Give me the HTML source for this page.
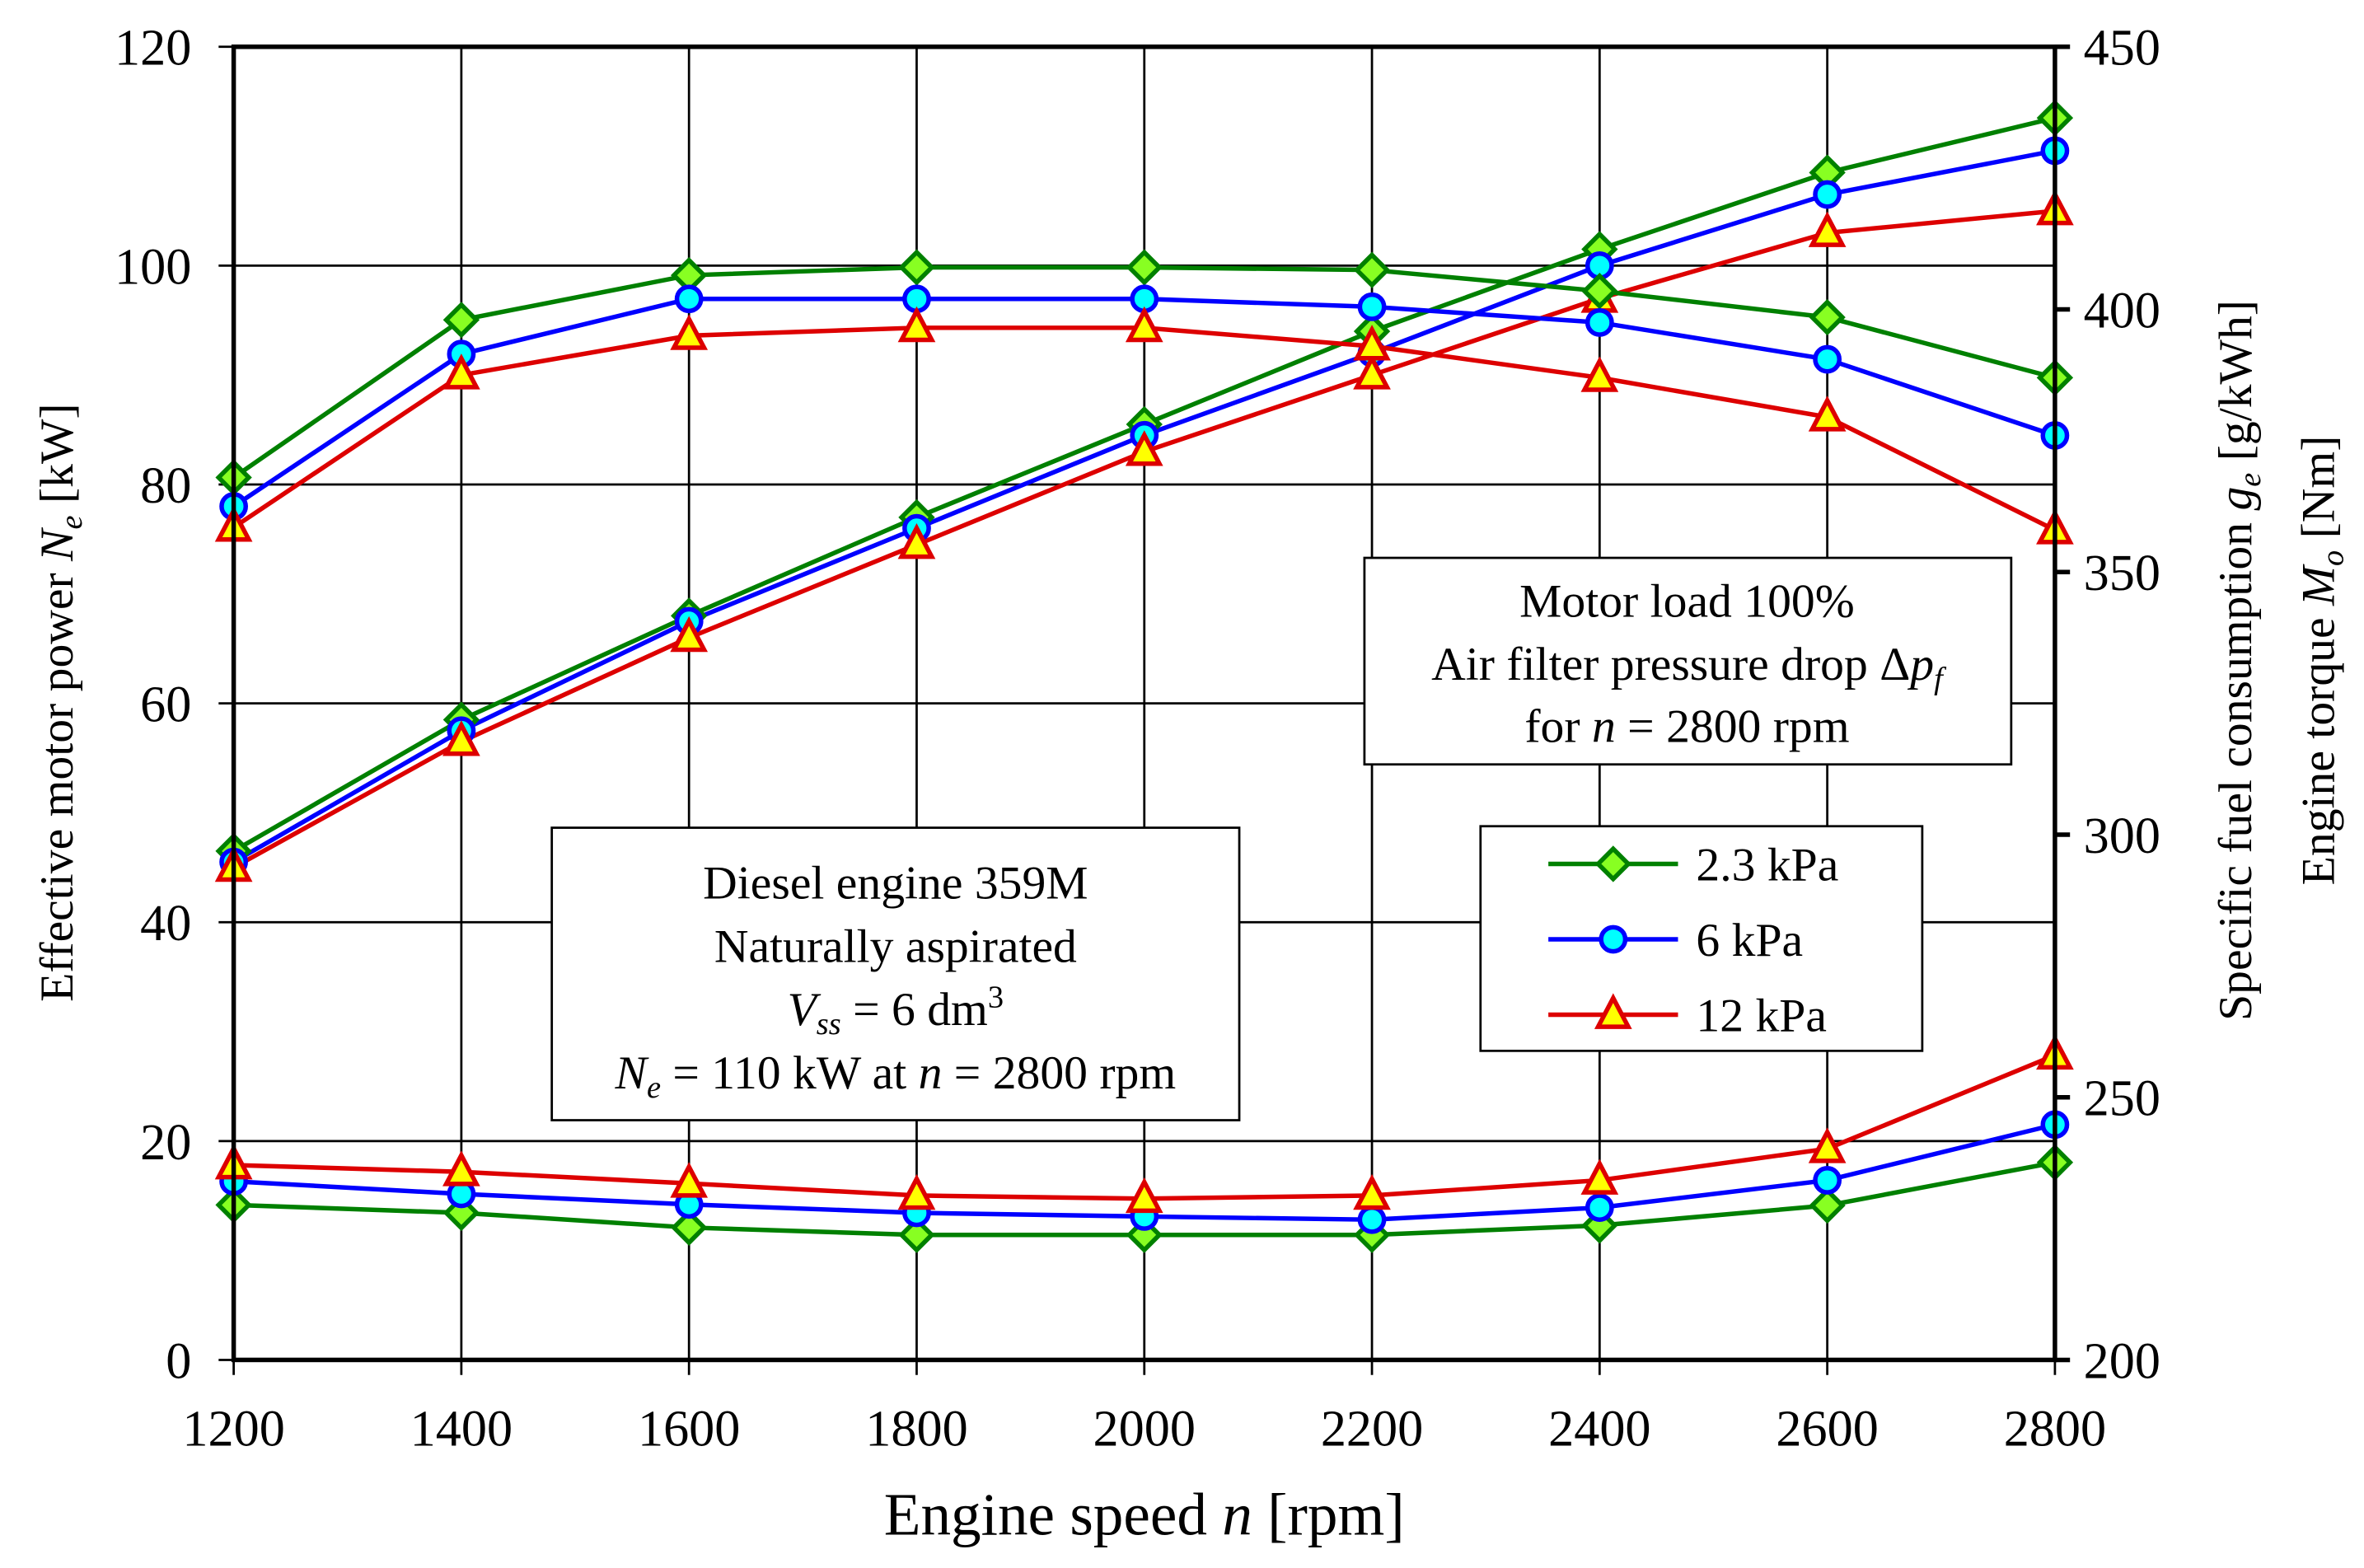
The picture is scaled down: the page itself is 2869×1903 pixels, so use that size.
<!DOCTYPE html>
<html><head><meta charset="utf-8"><style>
html,body{margin:0;padding:0;background:#fff}
svg{display:block}
text{font-family:"Liberation Serif",serif;fill:#000}
</style></head><body>
<svg id="chart" width="2869" height="1903" viewBox="0 0 1568 1040" xmlns="http://www.w3.org/2000/svg">
<g id="grid"></g>
<g id="series"></g>
<g id="axes"></g>
<text x="759" y="1018" font-size="40" text-anchor="middle">Engine speed <tspan font-style="italic">n</tspan> [rpm]</text>
<text transform="translate(48,466) rotate(-90)" font-size="31.5" text-anchor="middle">Effective motor power <tspan font-style="italic">N</tspan><tspan font-style="italic" font-size="21" dy="6">e</tspan><tspan dy="-6"> [kW]</tspan></text>
<text transform="translate(1493,438) rotate(-90)" font-size="31.5" text-anchor="middle">Specific fuel consumption <tspan font-style="italic">g</tspan><tspan font-style="italic" font-size="21" dy="6">e</tspan><tspan dy="-6"> [g/kWh]</tspan></text>
<text transform="translate(1548,438) rotate(-90)" font-size="31.5" text-anchor="middle">Engine torque <tspan font-style="italic">M</tspan><tspan font-style="italic" font-size="21" dy="6">o</tspan><tspan dy="-6"> [Nm]</tspan></text>
<g>
<rect x="366" y="549" width="456" height="194" fill="#fff" stroke="#000" stroke-width="1.5"/>
<text x="594" y="596" font-size="31.5" text-anchor="middle">Diesel engine 359M</text>
<text x="594" y="638" font-size="31.5" text-anchor="middle">Naturally aspirated</text>
<text x="594" y="680" font-size="31.5" text-anchor="middle"><tspan font-style="italic">V</tspan><tspan font-style="italic" font-size="21" dy="6">ss</tspan><tspan dy="-6"> = 6 dm</tspan><tspan font-size="21" dy="-12">3</tspan></text>
<text x="594" y="722" font-size="31.5" text-anchor="middle"><tspan font-style="italic">N</tspan><tspan font-style="italic" font-size="21" dy="6">e</tspan><tspan dy="-6"> = 110 kW at </tspan><tspan font-style="italic">n</tspan> = 2800 rpm</text>
</g>
<g>
<rect x="905" y="370" width="429" height="137" fill="#fff" stroke="#000" stroke-width="1.5"/>
<text x="1119" y="409" font-size="31.5" text-anchor="middle">Motor load 100%</text>
<text x="1119" y="451" font-size="31.5" text-anchor="middle">Air filter pressure drop Δ<tspan font-style="italic">p</tspan><tspan font-style="italic" font-size="21" dy="6">f</tspan></text>
<text x="1119" y="492" font-size="31.5" text-anchor="middle">for <tspan font-style="italic">n</tspan> = 2800 rpm</text>
</g>
<g id="legend">
<rect x="982" y="548" width="293" height="149" fill="#fff" stroke="#000" stroke-width="1.5"/>
</g>
</svg>
<script>
const speeds=[1200,1400,1600,1800,2000,2200,2400,2600,2800];
const xTicks=[1200,1400,1600,1800,2000,2200,2400,2600,2800];
const leftTicks=[0,20,40,60,80,100,120];
const rightTicks=[200,250,300,350,400,450];
const seriesNames=["2.3 kPa","6 kPa","12 kPa"];
const power23=[46.5,58.5,68,77,85.5,94,101.5,108.5,113.5];
const power6=[45.5,57.5,67.5,76,84.5,92,100,106.5,110.5];
const power12=[45,56.5,66,74.5,83,90,97,103,105];
const torque23=[368,398,406.5,408,408,407.5,403.5,398.5,387];
const torque6=[362.5,391.5,402,402,402,400.5,397.5,390.5,376];
const torque12=[358.5,387.5,395,396.5,396.5,393,387,379.5,358];
const sfc23=[229.5,228,225.2,223.8,223.8,223.8,225.6,229.4,237.6];
const sfc6=[234,231.6,229.6,228,227.3,226.7,229,234.2,244.8];
const sfc12=[237.1,235.8,233.6,231.3,230.7,231.3,234.2,240.2,258];

const NS="http://www.w3.org/2000/svg";
const L=155,R=1363,T=31,B=902;
function X(v){return L+(v-1200)/(2800-1200)*(R-L);}
function YL(v){return B-(v-0)/120*(B-T);}
function YR(v){return B-(v-200)/250*(B-T);}
function mk(tag,attrs,parent){const e=document.createElementNS(NS,tag);for(const k in attrs)e.setAttribute(k,attrs[k]);parent.appendChild(e);return e;}
const grid=document.getElementById('grid'),axes=document.getElementById('axes'),ser=document.getElementById('series'),leg=document.getElementById('legend');

xTicks.forEach(v=>{
  const l=mk('line',{x1:X(v),x2:X(v),y1:T,y2:B+10,stroke:'#000','stroke-width':1.5},grid);
  
  
  const t=mk('text',{x:X(v),y:959,'font-size':34,'text-anchor':'middle'},axes);
  t.textContent=v;
  
  
});
leftTicks.forEach(v=>{
  const l=mk('line',{x1:L-10,x2:R,y1:YL(v),y2:YL(v),stroke:'#000','stroke-width':1.5},grid);
  
  
  const t=mk('text',{x:127,y:YL(v)+12,'font-size':34,'text-anchor':'end'},axes);
  t.textContent=v;
  
  
});
rightTicks.forEach(v=>{
  const l=mk('line',{x1:R,x2:R+10,y1:YR(v),y2:YR(v),stroke:'#000','stroke-width':3},axes);
  
  
  const t=mk('text',{x:1382,y:YR(v)+12,'font-size':34,'text-anchor':'start'},axes);
  t.textContent=v;
  
  
});
const frame=mk('rect',{x:L,y:T,width:R-L,height:B-T,fill:'none',stroke:'#000','stroke-width':3},axes);



const styles=[
 {line:'#008000',fill:'#88ff22',stroke:'#008000',shape:'diamond'},
 {line:'#0000ff',fill:'#00ffff',stroke:'#0000ff',shape:'circle'},
 {line:'#dd0000',fill:'#ffff00',stroke:'#dd0000',shape:'triangle'}];
function marker(shape,x,y,st,parent){
  let e;
  if(shape==='diamond'){e=mk('polygon',{points:`${x},${y-10} ${x+10},${y} ${x},${y+10} ${x-10},${y}`},parent);}
  else if(shape==='circle'){e=mk('circle',{cx:x,cy:y,r:8},parent);}
  else {e=mk('polygon',{points:`${x},${y-11} ${x+10},${y+8} ${x-10},${y+8}`},parent);}
  e.setAttribute('fill',st.fill);e.setAttribute('stroke',st.stroke);e.setAttribute('stroke-width',3);
  return e;
}
const groups=[
 {name:'power',yf:YL,data:[power23,power6,power12]},
 {name:'torque',yf:YR,data:[torque23,torque6,torque12]},
 {name:'sfc',yf:YR,data:[sfc23,sfc6,sfc12]}];
groups.forEach(g=>{
  g.data.forEach((arr,i)=>{
    const st=styles[i];
    const pts=arr.map((v,j)=>X(speeds[j])+','+g.yf(v)).join(' ');
    const pl=mk('polyline',{points:pts,fill:'none',stroke:st.line,'stroke-width':3},ser);
    
    
  });
  g.data.forEach((arr,i)=>{
    arr.forEach((v,j)=>{
      const m=marker(styles[i].shape,X(speeds[j]),g.yf(v),styles[i],ser);
      
      
    });
  });
});
seriesNames.forEach((n,i)=>{
  const y=573+i*50;
  const l=mk('line',{x1:1027,x2:1113,y1:y,y2:y,stroke:styles[i].line,'stroke-width':3},leg);
  
  
  const m=marker(styles[i].shape,1070,y,styles[i],leg);
  
  
  const t=mk('text',{x:1125,y:y+11,'font-size':31.5},leg);
  t.textContent=n;
  
  
});
</script>
</body></html>
